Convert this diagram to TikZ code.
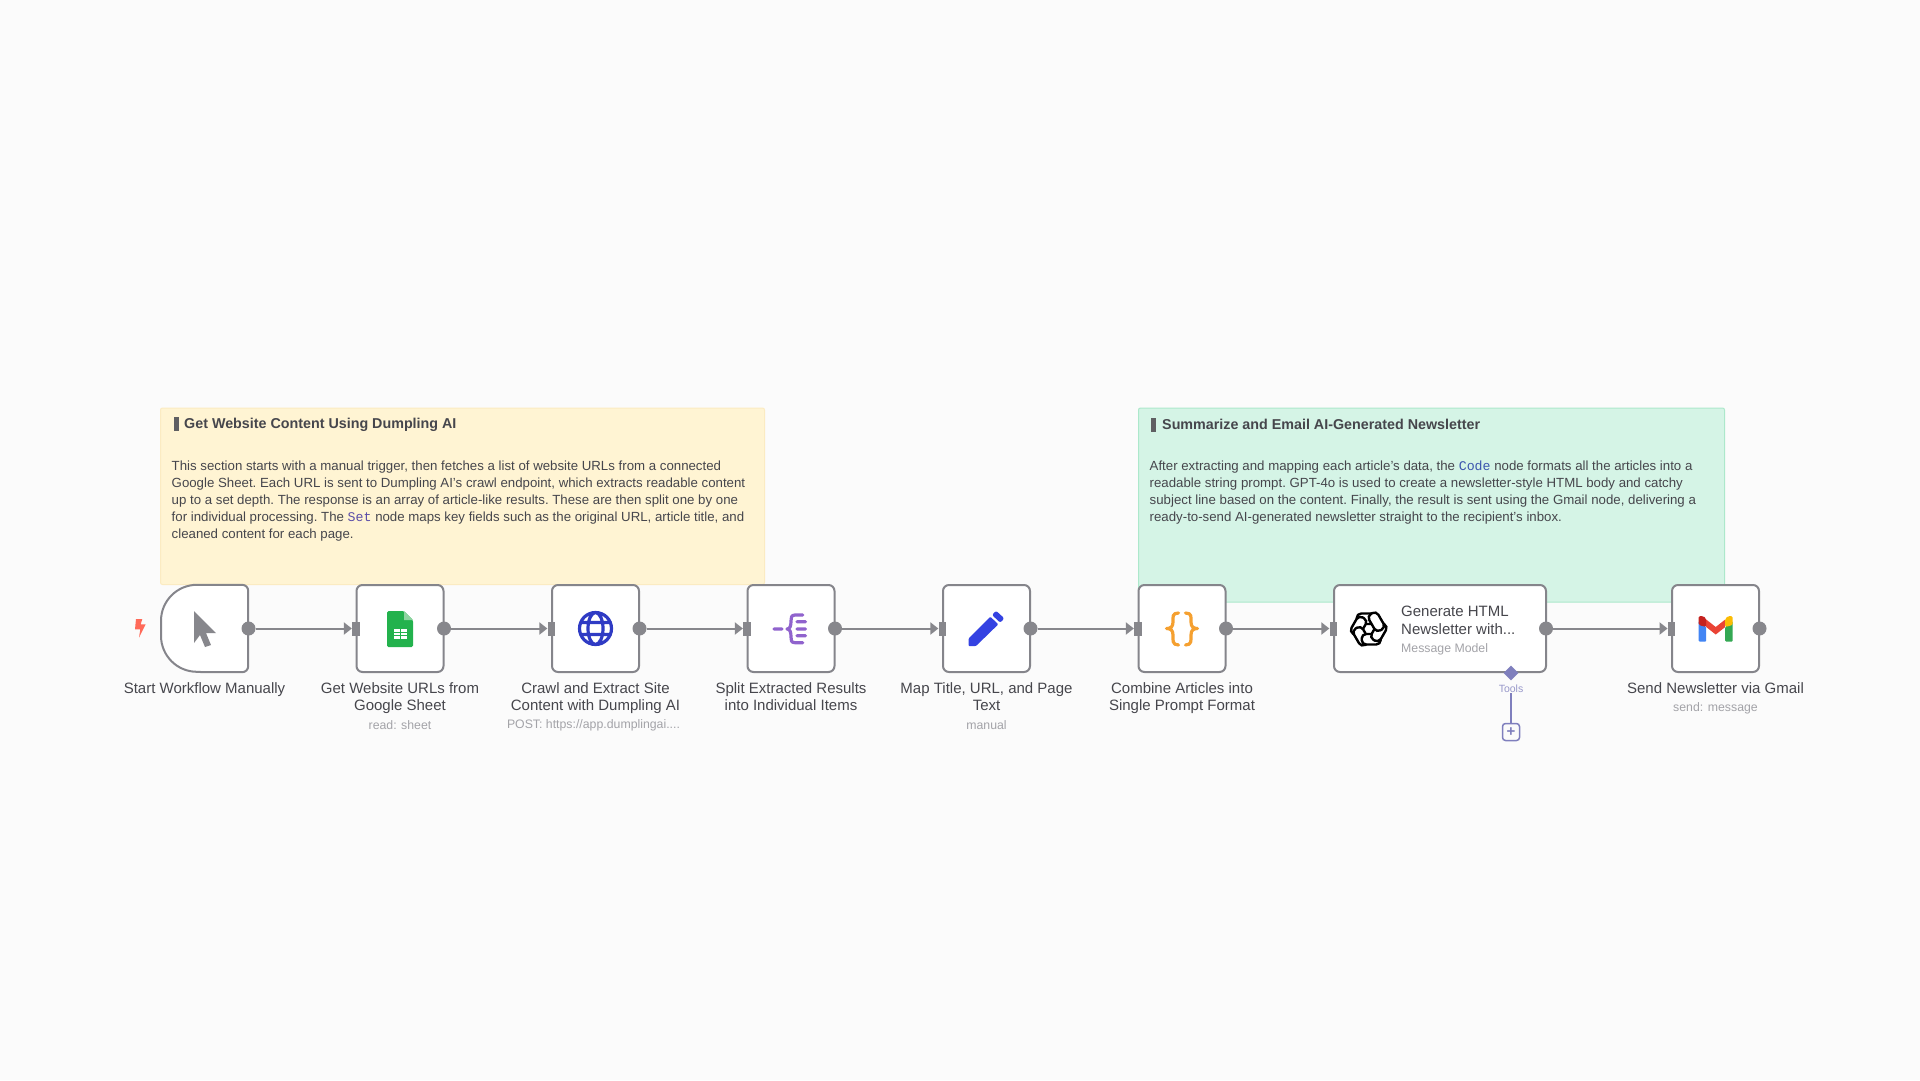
\documentclass[tikz,border=0pt]{standalone}
\usepackage{fontspec}
\setmainfont{Liberation Sans}
\setmonofont{Liberation Mono}
\usetikzlibrary{arrows.meta, shapes.geometric}

\definecolor{canvascol}{HTML}{FBFBFB}
\definecolor{yellownote}{HTML}{FFF4D3}
\definecolor{yellowrim}{HTML}{FBEBC2}
\definecolor{greennote}{HTML}{D5F4E6}
\definecolor{greenrim}{HTML}{ACE8CB}
\definecolor{rimcol}{HTML}{85858B}
\definecolor{portcol}{HTML}{87878C}
\definecolor{textcol}{HTML}{46464C}
\definecolor{subcol}{HTML}{A3A3A8}
\definecolor{toolcol}{HTML}{7F7FBD}

\tikzset{
  note/.style={rectangle, rounded corners=2, line width=1, anchor=north west},
  notehead/.style={anchor=west, inner sep=0, text=textcol, font=\fontsize{14.3}{17}\selectfont\bfseries},
  notebody/.style={anchor=north west, inner sep=0, align=left, text=textcol, font=\frenchspacing\fontsize{13.25}{17}\selectfont},
  flownode/.style={rectangle, draw=rimcol, line width=2, fill=white, rounded corners=6, minimum width=87, minimum height=87, inner sep=0},
  outport/.style={circle, fill=portcol, minimum size=14, inner sep=0},
  inport/.style={rectangle, fill=portcol, minimum width=7.5, minimum height=14, inner sep=0},
  edge/.style={draw=portcol, line width=2, -{Triangle[length=8, width=12]}},
  nodelabel/.style={anchor=north, inner sep=0, align=center, text=textcol, font=\fontsize{15}{17.8}\selectfont},
  sublabel/.style={inner sep=0, text=subcol, font=\fontsize{12.3}{14}\selectfont},
  icon/.style={line width=3.2, line cap=round, line join=round},
  knotline/.style={draw=black, fill=white, line width=2.4},
}

\newcommand{\knotarm}[1]{\draw[knotline, shift={(1368.7,629)}, rotate=#1, rounded corners=4.5] (-12,-15.5) -- (7,-15.5) -- (7,-5) -- (-12,-5) -- cycle;}

\begin{document}
\begin{tikzpicture}[x=1pt, y=-1pt]
\fill[canvascol] (0,0) rectangle (1920,1080);
\useasboundingbox (0,0) rectangle (1920,1080);

\path (160,407.5) node[note, draw=yellowrim, fill=yellownote, minimum width=604, minimum height=176.5] (yellowsticky) {}
      (1138,407.5) node[note, draw=greenrim, fill=greennote, minimum width=586, minimum height=194] (greensticky) {}
      (173.5,424.5) node[notehead] (yellowhead) {\textcolor{portcol!70!black}{\rule[-2.5pt]{5pt}{14pt}}\hspace{5.5pt}Get Website Content Using Dumpling AI}
      (1151,424.5) node[notehead] (greenhead) {\textcolor{portcol!70!black}{\rule[-2.5pt]{5pt}{14pt}}\hspace{6pt}Summarize and Email AI-Generated Newsletter}
      (171.5,460.5) node[notebody] (yellowbody) {This section starts with a manual trigger, then fetches a list of website URLs from a connected\\
Google Sheet. Each URL is sent to Dumpling AI’s crawl endpoint, which extracts readable content\\
up to a set depth. The response is an array of article-like results. These are then split one by one\\
for individual processing. The \textcolor[HTML]{5A4CA8}{\ttfamily Set} node maps key fields such as the original URL, article title, and\\
cleaned content for each page.}
      (1149.5,460.5) node[notebody] (greenbody) {After extracting and mapping each article’s data, the \textcolor[HTML]{3B55AE}{\ttfamily Code} node formats all the articles into a\\
readable string prompt. GPT-4o is used to create a newsletter-style HTML body and catchy\\
subject line based on the content. Finally, the result is sent using the Gmail node, delivering a\\
ready-to-send AI-generated newsletter straight to the recipient’s inbox.};

\path (204.5,628.5) node[rectangle, minimum width=87, minimum height=87, inner sep=0] (start) {};
\draw[draw=rimcol, line width=2, fill=white] (start.south) [rounded corners=6] -- (start.south east) -- (start.north east) -- (start.north) [sharp corners] -- ++(-7.5,0) arc[start angle=270, end angle=180, radius=36] -- ++(0,15) arc[start angle=180, end angle=90, radius=36] -- cycle;

\path (400,628.5) node[flownode] (sheet) {}
      (595.5,628.5) node[flownode] (crawl) {}
      (791,628.5) node[flownode] (split) {}
      (986.5,628.5) node[flownode] (mapfields) {}
      (1182,628.5) node[flownode] (combine) {}
      (1440,628.5) node[flownode, minimum width=212] (generate) {}
      (1715.5,628.5) node[flownode] (gmail) {}

      (248.5,628.5) node[outport] (startout) {}
      (444,628.5) node[outport] (sheetout) {}
      (639.5,628.5) node[outport] (crawlout) {}
      (835,628.5) node[outport] (splitout) {}
      (1030.5,628.5) node[outport] (mapfieldsout) {}
      (1226,628.5) node[outport] (combineout) {}
      (1546,628.5) node[outport] (generateout) {}
      (1759.5,628.5) node[outport] (gmailout) {}

      (355.8,628.5) node[inport] (sheetin) {}
      (551.3,628.5) node[inport] (crawlin) {}
      (746.8,628.5) node[inport] (splitin) {}
      (942.3,628.5) node[inport] (mapfieldsin) {}
      (1137.8,628.5) node[inport] (combinein) {}
      (1333.3,628.5) node[inport] (generatein) {}
      (1671.5,628.5) node[inport] (gmailin) {};

\draw[edge] (startout) to (sheetin);
\draw[edge] (sheetout) to (crawlin);
\draw[edge] (crawlout) to (splitin);
\draw[edge] (splitout) to (mapfieldsin);
\draw[edge] (mapfieldsout) to (combinein);
\draw[edge] (combineout) to (generatein);
\draw[edge] (generateout) to (gmailin);

\path (204.5,682) node[nodelabel] (startlabel) {Start Workflow Manually}
      (400,682) node[nodelabel] (sheetlabel) {Get Website URLs from\\Google Sheet}
      (595.5,682) node[nodelabel] (crawllabel) {Crawl and Extract Site\\Content with Dumpling AI}
      (791,682) node[nodelabel] (splitlabel) {Split Extracted Results\\into Individual Items}
      (986.5,682) node[nodelabel] (mapfieldslabel) {Map Title, URL, and Page\\Text}
      (1182,682) node[nodelabel] (combinelabel) {Combine Articles into\\Single Prompt Format}
      (1715.5,682) node[nodelabel] (gmaillabel) {Send Newsletter via Gmail}
      (400,725) node[sublabel] (sheetsub) {read: sheet}
      (593.5,725) node[sublabel] (crawlsub) {POST: https://app.dumplingai....}
      (986.5,725) node[sublabel] (mapfieldssub) {manual}
      (1715.5,708) node[sublabel] (gmailsub) {send: message}
      (1401,606) node[nodelabel, anchor=north west, align=left] (generatetext) {Generate HTML\\Newsletter with...}
      (1401,649) node[sublabel, anchor=west] (generatesub) {Message Model};

\path (1511,673) node[diamond, fill=toolcol, minimum width=15, minimum height=15, inner sep=0] (toolsport) {}
      (1511,689) node[inner sep=0, text=toolcol!80, font=\fontsize{10.5}{12}\selectfont] (tools) {Tools}
      (1511,732) node[rectangle, draw=toolcol, line width=1.5, rounded corners=3, fill=canvascol, minimum size=17, inner sep=0] (addtool) {\textcolor{toolcol}{\fontsize{15}{15}\selectfont\bfseries +}};
\draw[draw=toolcol, line width=1.6] (tools) to (addtool);

% trigger bolt and cursor
\fill[fill=orange!20!red!65!white] (136,619) -- (142.3,619) -- (140.7,624.3) -- (145.7,624.3) -- (139,637.7) -- (140.3,629.3) -- (135,629.3) -- cycle;
\fill[portcol, line join=round] (194,611) -- (216,633) -- (206,633) -- (211,645) -- (205,647) -- (200,635) -- (194,643) -- cycle;

% sheet
\fill[fill={rgb,255:red,35;green,178;blue,77}, rounded corners=1.5] (387,611) -- (404,611) -- (413,620) -- (413,647) -- (387,647) -- cycle;
\fill[fill={rgb,255:red,142;green,212;blue,160}] (404,611) -- (413,620) -- (404,620) -- cycle;
\fill[white] (393.5,629) rectangle (406.5,639);
\draw[draw={rgb,255:red,35;green,178;blue,77}, line width=1] (400,629) -- (400,639) (393.5,632.3) -- (406.5,632.3) (393.5,635.6) -- (406.5,635.6);

% globe
\draw[icon, draw={rgb,255:red,47;green,59;blue,196}] (595.5,628.5) circle (16) (595.5,628.5) ellipse (7.5 and 16) (581,622.5) -- (610,622.5) (581,634.5) -- (610,634.5);

% split
\draw[icon, draw={rgb,255:red,144;green,99;blue,205}] (774,629) -- (782,629)
  (802.7,615) -- (795,615) .. controls (791,615) and (791,618) .. (791,621) .. controls (791,626) and (790,629) .. (787,629) .. controls (790,629) and (791,632) .. (791,637) .. controls (791,640) and (791,642.7) .. (795,642.7) -- (802.7,642.7)
  (797,621.7) -- (805.5,621.7) (797,629) -- (805.5,629) (797,635.8) -- (805.5,635.8);

% pencil
\fill[fill={rgb,255:red,52;green,66;blue,226}, rounded corners=0.8] (968.7,646) -- (968.7,638.3) -- (990.3,616.7) -- (998.3,624.3) -- (976,646) -- cycle;
\fill[fill={rgb,255:red,52;green,66;blue,226}, rounded corners=2] (992,615) -- (996,610.7) -- (1004.3,618.3) -- (1000.3,622.7) -- cycle;

% braces
\draw[icon, draw={rgb,255:red,245;green,160;blue,48}] (1178.5,613) .. controls (1172,613) and (1173,617) .. (1173,622) .. controls (1173,627) and (1170.5,628.5) .. (1166.5,628.5) .. controls (1170.5,628.5) and (1173,630) .. (1173,635) .. controls (1173,640) and (1172,645) .. (1178.5,645)
  (1185.5,613) .. controls (1192,613) and (1191,617) .. (1191,622) .. controls (1191,627) and (1193.5,628.5) .. (1197.5,628.5) .. controls (1193.5,628.5) and (1191,630) .. (1191,635) .. controls (1191,640) and (1192,645) .. (1185.5,645);

% knot
\knotarm{0}
\knotarm{60}
\knotarm{120}
\knotarm{180}
\knotarm{240}
\knotarm{300}

% gmail
\fill[fill={rgb,255:red,66;green,133;blue,244}, rounded corners=1] (1698.7,621) -- (1706.2,627) -- (1706.2,641.7) -- (1698.7,641.7) -- cycle;
\fill[fill={rgb,255:red,52;green,168;blue,83}, rounded corners=1] (1732.7,621) -- (1725.2,627) -- (1725.2,641.7) -- (1732.7,641.7) -- cycle;
\fill[fill={rgb,255:red,234;green,67;blue,53}] (1706.2,619.5) -- (1715.7,627) -- (1725.2,619.5) -- (1725.2,627) -- (1715.7,634.5) -- (1706.2,627) -- cycle;
\fill[fill={rgb,255:red,197;green,34;blue,31}, rounded corners=1.5] (1698.7,625) -- (1698.7,616) -- (1703,616) -- (1706.2,618.5) -- (1706.2,627) -- cycle;
\fill[fill={rgb,255:red,251;green,188;blue,4}, rounded corners=1.5] (1732.7,625) -- (1732.7,616) -- (1728.4,616) -- (1725.2,618.5) -- (1725.2,627) -- cycle;

\end{tikzpicture}
\end{document}
